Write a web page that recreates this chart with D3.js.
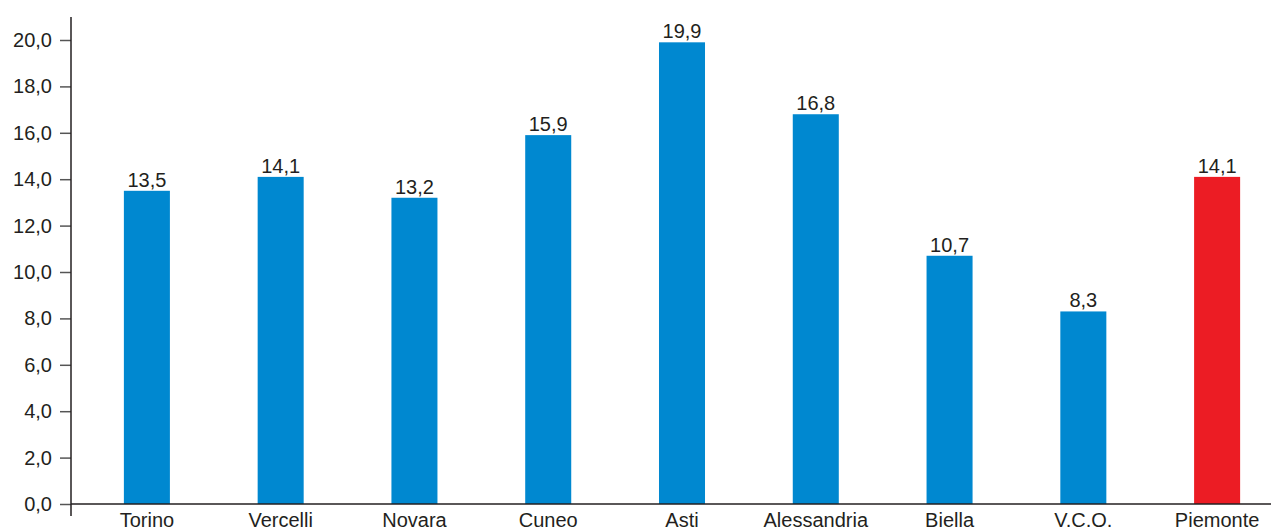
<!DOCTYPE html>
<html>
<head>
<meta charset="utf-8">
<script src="https://cdn.jsdelivr.net/npm/d3@7"></script>
<style>
  html, body { margin: 0; padding: 0; background: #fff; }
  svg { display: block; font-family: "Liberation Sans", Arial, Helvetica, sans-serif; }
</style>
</head>
<body>
<script>
const categories = ["Torino", "Vercelli", "Novara", "Cuneo", "Asti", "Alessandria", "Biella", "V.C.O.", "Piemonte"];
const values = [13.5, 14.1, 13.2, 15.9, 19.9, 16.8, 10.7, 8.3, 14.1];
const highlight = ["Piemonte"];
const yTicks = [0, 2, 4, 6, 8, 10, 12, 14, 16, 18, 20];

const W = 1271, H = 530;
const axisX = 71, baseY = 504;
const textColor = "#231f20";
const fmt = v => d3.format(".1f")(v).replace(".", ",");

const svg = d3.select("body").append("svg").attr("width", W).attr("height", H);

const x = d3.scaleBand().domain(categories).range([80, 1284]).paddingInner(0.656).paddingOuter(0.328);
const y = d3.scaleLinear().domain([0, 20]).range([baseY, 40]);

// bars
svg.append("g").selectAll("rect").data(categories).join("rect")
  .attr("x", d => x(d))
  .attr("width", x.bandwidth())
  .attr("y", (d, i) => y(values[i]))
  .attr("height", (d, i) => baseY - y(values[i]))
  .attr("fill", d => highlight.includes(d) ? "#ec1c24" : "#0088d0");

// value labels
svg.append("g").selectAll("text").data(categories).join("text")
  .attr("x", d => x(d) + x.bandwidth() / 2)
  .attr("y", (d, i) => y(values[i]) - 4)
  .attr("text-anchor", "middle")
  .attr("font-size", 20)
  .attr("fill", textColor)
  .text((d, i) => fmt(values[i]));

// y axis
const yAxis = d3.axisLeft(y).tickValues(yTicks).tickFormat(fmt).tickSize(11).tickPadding(8);
const gy = svg.append("g").attr("transform", `translate(${axisX},0)`).call(yAxis);
gy.select(".domain").remove();
gy.selectAll(".tick line").attr("stroke", "#555").attr("stroke-width", 1.5);
gy.selectAll(".tick text").attr("font-size", 20).attr("fill", textColor)
  .attr("font-family", "'Liberation Sans', Arial, sans-serif");
svg.append("line").attr("x1", axisX).attr("x2", axisX).attr("y1", 17).attr("y2", 516)
  .attr("stroke", textColor).attr("stroke-width", 1.5);

// x axis
const xAxis = d3.axisBottom(x).tickSize(0).tickPadding(9);
const gx = svg.append("g").attr("transform", `translate(0,${baseY})`).call(xAxis);
gx.select(".domain").remove();
gx.selectAll(".tick text").attr("font-size", 20).attr("fill", textColor)
  .attr("font-family", "'Liberation Sans', Arial, sans-serif");
svg.append("line").attr("x1", axisX).attr("x2", W).attr("y1", baseY).attr("y2", baseY)
  .attr("stroke", textColor).attr("stroke-width", 1.5);
</script>
</body>
</html>
